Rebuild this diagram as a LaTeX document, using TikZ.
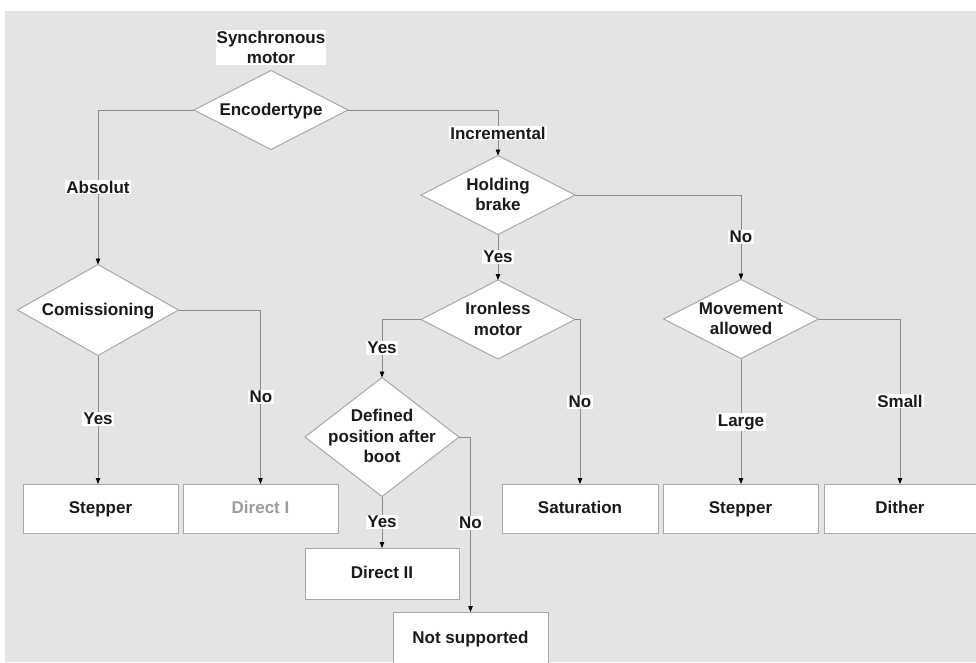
\documentclass[tikz,border=0pt]{standalone}
\usepackage{fontspec}
\setmainfont{Liberation Sans}
\usetikzlibrary{shapes.geometric, arrows.meta}

\definecolor{bggray}{HTML}{E4E4E4}
\definecolor{linegray}{HTML}{8A8A8A}
\definecolor{framegray}{HTML}{A8A8A8}
\definecolor{inkgray}{HTML}{1A1A1A}
\definecolor{fadedgray}{HTML}{9C9C9C}

% text of a decision, kept out of the diamond's size
\newcommand{\dtext}[1]{\smash{\makebox[0pt]{\raisebox{-0.33em}{\begin{tabular}{@{}c@{}}#1\end{tabular}}}}}

\begin{document}
\begin{tikzpicture}[x=1pt, y=-1pt,
every node/.style = {font=\fontsize{17}{20.5}\selectfont\bfseries, text=inkgray},
decision/.style = {diamond, draw=framegray, fill=white, line width=1pt, inner sep=0pt,
                   outer sep=0pt, minimum width=154pt, minimum height=79pt},
outcome/.style = {rectangle, draw=framegray, fill=white, line width=1pt, inner sep=0pt,
                  outer sep=0pt, minimum width=155pt, minimum height=49pt,
                  text height=12.5pt, text depth=3.5pt},
branch/.style = {fill=white, inner xsep=1.5pt, inner ysep=1pt},
link/.style = {draw=linegray, line width=0.8pt,
               -{Triangle[length=6pt, width=4.5pt, color=black]}}]
\useasboundingbox (0,0) rectangle (976,662);
\fill[bggray] (5,11) rectangle (976,662);
% decisions
\node[branch, align=center, inner sep=1pt] (sync) at (271,47.5) {Synchronous\\motor};
\node[decision] (encoder) at (271,110) {\dtext{Encodertype}};
\node[decision, minimum width=161pt, minimum height=91pt] (comm) at (98,310) {\dtext{Comissioning}};
\node[decision] (holding) at (498,195) {\dtext{Holding\\brake}};
\node[decision] (ironless) at (498,319.5) {\dtext{Ironless\\motor}};
\node[decision, minimum width=155pt] (movement) at (741,319) {\dtext{Movement\\allowed}};
\node[decision, minimum height=119pt] (defined) at (382,437) {\dtext{Defined\\position after\\boot}};
% outcomes
\node[outcome] (stepA) at (100.5,508.5) {Stepper};
\node[outcome, text=fadedgray] (directI) at (260.5,508.5) {Direct I};
\node[outcome, minimum width=156pt] (saturation) at (580,508.5) {Saturation};
\node[outcome] (stepB) at (740.5,508.5) {Stepper};
\node[outcome, minimum width=152pt] (dither) at (900,508.5) {Dither};
\node[outcome, minimum width=154pt, minimum height=51pt] (directII) at (382,573.5) {Direct II};
\node[outcome, minimum height=54pt] (notsup) at (470.5,639) {Not supported};
% connectors
\draw[link] (encoder.west) -| (comm.north);
\draw[link] (encoder.east) -| (holding.north);
\draw[link] (comm.south) -- (comm.south |- stepA.north);
\draw[link] (comm.east) -| (directI.north);
\draw[link] (holding.south) -- (ironless.north);
\draw[link] (holding.east) -| (movement.north);
\draw[link] (ironless.west) -| (defined.north);
\draw[link] (ironless.east) -| (saturation.north);
\draw[link] (movement.south) -- (movement.south |- stepB.north);
\draw[link] (movement.east) -| (dither.north);
\draw[link] (defined.south) -- (directII.north);
\draw[link] (defined.east) -| (notsup.north);
% branch labels
\node[branch] (lAbsolut) at (98,187) {Absolut};
\node[branch] (lIncremental) at (498,133) {Incremental};
\node[branch] (lCommYes) at (98,419) {Yes};
\node[branch] (lCommNo) at (261,397) {No};
\node[branch] (lHoldYes) at (498,257) {Yes};
\node[branch] (lHoldNo) at (741,237) {No};
\node[branch] (lIronYes) at (382,348) {Yes};
\node[branch] (lIronNo) at (580,402) {No};
\node[branch] (lMoveLarge) at (741,422) {Large};
\node[branch] (lMoveSmall) at (900,401) {Small};
\node[branch] (lDefYes) at (382,522) {Yes};
\node[branch] (lDefNo) at (470.5,523) {No};
\end{tikzpicture}
\end{document}
